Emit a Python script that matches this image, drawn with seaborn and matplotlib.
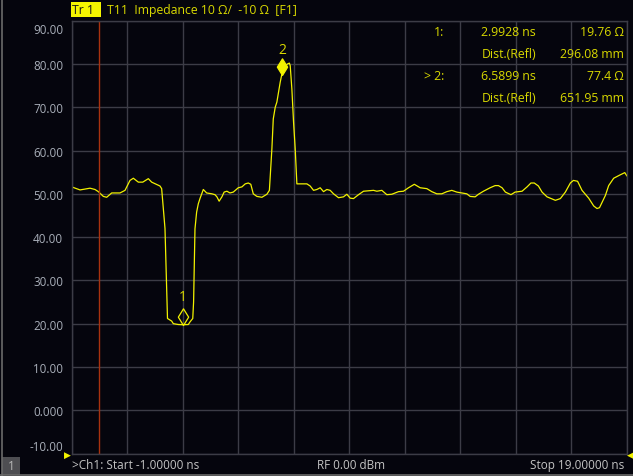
import matplotlib
matplotlib.use("Agg")
import matplotlib.pyplot as plt
import matplotlib.transforms as mtransforms
from matplotlib.path import Path
from matplotlib.patches import Rectangle
import pandas as pd
import seaborn as sns

# --- Trace data ---
time_ns = [-1.00, -0.70, -0.34, -0.16, -0.04, 0.14, 0.26, 0.44, 0.74, 0.92,
           1.10, 1.22, 1.40, 1.56, 1.76, 1.88, 2.18, 2.24, 2.36, 2.45,
           2.60, 2.66, 2.84, 2.99, 3.20, 3.26, 3.36, 3.39, 3.44, 3.50,
           3.56, 3.62, 3.74, 3.86, 4.05, 4.16, 4.23, 4.31, 4.41, 4.49,
           4.59, 4.70, 4.82, 5.00, 5.13, 5.25, 5.36, 5.45, 5.54, 5.67,
           5.85, 6.03, 6.12, 6.17, 6.21, 6.26, 6.33, 6.39, 6.45, 6.51,
           6.57, 6.63, 6.69, 6.77, 6.84, 6.87, 6.93, 6.99, 7.05, 7.11,
           7.47, 7.59, 7.71, 7.83, 7.95, 8.07, 8.19, 8.31, 8.43, 8.61,
           8.79, 8.91, 9.03, 9.15, 9.33, 9.51, 9.87, 9.99, 10.17, 10.35,
           10.53, 10.77, 10.95, 11.13, 11.34, 11.55, 11.79, 11.97, 12.15, 12.33,
           12.51, 12.69, 12.87, 13.05, 13.23, 13.35, 13.53, 13.65, 13.83, 14.07,
           14.25, 14.37, 14.50, 14.62, 14.82, 14.97, 15.22, 15.40, 15.54, 15.66,
           15.81, 15.94, 16.12, 16.42, 16.60, 16.78, 16.96, 17.07, 17.22, 17.38,
           17.62, 17.80, 17.92, 18.01, 18.22, 18.34, 18.52, 18.76, 18.92, 19.00]
impedance_ohm = [51.6, 50.9, 51.3, 51.0, 50.5, 49.4, 49.2, 50.2, 50.2, 50.8,
                 53.1, 53.6, 52.7, 52.7, 53.5, 52.7, 51.8, 51.2, 42.0, 21.2,
                 20.6, 20.0, 19.8, 19.76, 19.8, 20.4, 21.2, 25.0, 41.9, 45.8,
                 47.7, 48.9, 51.0, 50.2, 50.0, 49.8, 49.3, 48.3, 49.3, 50.4,
                 50.6, 50.2, 50.4, 51.4, 51.6, 52.3, 52.5, 52.2, 50.0, 49.4,
                 49.2, 49.9, 50.8, 56.0, 60.4, 67.3, 70.0, 71.2, 73.5, 75.8,
                 77.7, 78.5, 79.5, 80.0, 80.2, 79.6, 74.2, 66.6, 60.4, 52.3,
                 52.3, 51.8, 50.8, 51.0, 51.4, 50.5, 51.0, 50.8, 50.0, 49.1,
                 49.3, 49.9, 49.0, 48.9, 49.8, 50.6, 50.8, 50.6, 50.8, 49.8,
                 49.9, 50.5, 50.6, 51.4, 52.2, 51.4, 51.2, 50.5, 50.0, 50.0,
                 50.5, 50.8, 50.4, 50.2, 50.0, 49.4, 49.3, 49.9, 50.6, 51.4,
                 51.9, 51.9, 51.4, 50.4, 49.8, 50.4, 50.6, 51.6, 52.5, 52.5,
                 51.8, 50.4, 49.3, 48.5, 48.9, 50.4, 52.5, 53.1, 52.9, 50.8,
                 49.0, 47.2, 46.6, 46.8, 49.6, 51.9, 53.6, 54.4, 54.9, 54.1]

# --- Markers ---
marker_ids = ["1", "2"]
marker_time = [2.9928, 6.5899]
marker_value = [19.76, 77.4]
marker_dist = ["296.08 mm", "651.95 mm"]
marker_time_txt = ["2.9928 ns", "6.5899 ns"]
marker_value_txt = ["19.76 Ω", "77.4 Ω"]

y_ticks = [90, 80, 70, 60, 50, 40, 30, 20, 10, 0, -10]
y_tick_labels = ["90.00", "80.00", "70.00", "60.00", "50.00", "40.00",
                 "30.00", "20.00", "10.00", "0.000", "-10.00"]
x_start, x_stop = -1.0, 19.0

# --- Colours ---
BG = "#05050d"
GRID = "#3c3c46"
LABEL = "#a8aeb8"
TRACE = "#f2f200"
YELLOW_TXT = "#d9d900"
STATUS = "#c4c4c4"

W, H = 633, 477

sns.set_theme(style="dark", rc={
    "figure.facecolor": BG,
    "axes.facecolor": BG,
    "savefig.facecolor": BG,
})
plt.rcParams["font.family"] = ["Open Sans", "DejaVu Sans"]


def fx(x):
    return x / W


def fy(y):
    return 1 - y / H


fig = plt.figure(figsize=(W / 100, H / 100), dpi=100)
ax = fig.add_axes([fx(71.7), fy(454.5), (627.0 - 71.7) / W, (454.5 - 21.7) / H])

df = pd.DataFrame({"time": time_ns, "z": impedance_ohm})
sns.lineplot(data=df, x="time", y="z", ax=ax, color=TRACE, linewidth=0.9,
             estimator=None, sort=False)

# reference (t = 0) line
ax.axvline(0.0, color="#a8320f", linewidth=1.0)

ax.set_xlim(x_start, x_stop)
ax.set_ylim(-10, 90)
ax.set_xticks([x_start + 2 * i for i in range(11)])
ax.set_xticklabels([])
ax.set_yticks(y_ticks)
ax.set_yticklabels(y_tick_labels)
ax.set_xlabel("")
ax.set_ylabel("")
ax.grid(True, color=GRID, linewidth=1.0)
ax.tick_params(axis="both", length=0)
ax.tick_params(axis="y", colors=LABEL, labelsize=8.4, pad=6)
for sp in ax.spines.values():
    sp.set_visible(True)
    sp.set_color(GRID)
    sp.set_linewidth(1.0)

# shift end labels inward like the instrument display
labels = ax.get_yticklabels()
labels[0].set_transform(labels[0].get_transform() +
                        mtransforms.ScaledTranslation(0, -7.5 / 100, fig.dpi_scale_trans))
labels[-1].set_transform(labels[-1].get_transform() +
                         mtransforms.ScaledTranslation(0, 8 / 100, fig.dpi_scale_trans))

# marker diamonds, bottom vertex sits on the trace
diamond = Path([(0, 0), (0.62, 1), (0, 2), (-0.62, 1), (0, 0)],
               [Path.MOVETO, Path.LINETO, Path.LINETO, Path.LINETO, Path.CLOSEPOLY])
for i, (mt, mv) in enumerate(zip(marker_time, marker_value)):
    face = TRACE if i == 1 else "none"
    ax.plot([mt], [mv], marker=diamond, markersize=24, markerfacecolor=face,
            markeredgecolor=TRACE, markeredgewidth=0.9, linestyle="none")
    ax.annotate(marker_ids[i], (mt, mv), xytext=(0, 20 if i == 0 else 18.5),
                textcoords="offset points", ha="center", va="center",
                color=YELLOW_TXT, fontsize=10)

# marker readout table
rows_y = [32, 55, 77, 99]
for i in range(2):
    prefix = "1:" if i == 0 else "> 2:"
    fig.text(fx(444), fy(rows_y[2 * i]), prefix, ha="right", va="center",
             color=YELLOW_TXT, fontsize=8.8)
    fig.text(fx(536), fy(rows_y[2 * i]), marker_time_txt[i], ha="right", va="center",
             color=YELLOW_TXT, fontsize=8.8)
    fig.text(fx(624), fy(rows_y[2 * i]), marker_value_txt[i], ha="right", va="center",
             color=YELLOW_TXT, fontsize=8.8)
    fig.text(fx(536), fy(rows_y[2 * i + 1]), "Dist.(Refl)", ha="right", va="center",
             color=YELLOW_TXT, fontsize=8.8)
    fig.text(fx(624), fy(rows_y[2 * i + 1]), marker_dist[i], ha="right", va="center",
             color=YELLOW_TXT, fontsize=8.8)

# trace title bar
fig.patches.append(Rectangle((fx(71), fy(17.5)), 30 / W, 15 / H, transform=fig.transFigure,
                             facecolor="#f5f500", edgecolor="none"))
fig.text(fx(72), fy(10.5), "Tr 1", ha="left", va="center", color="#1a1a1a", fontsize=8.8)
fig.text(fx(107), fy(10.5), "T11  Impedance 10 Ω/  -10 Ω  [F1]", ha="left", va="center",
         color=YELLOW_TXT, fontsize=8.8)

# reference level arrows at the axis edges
fig.text(fx(64), fy(455), "▶", ha="left", va="center", color=TRACE, fontsize=6.5)
fig.text(fx(634), fy(455), "◀", ha="right", va="center", color=TRACE, fontsize=6.5)

# status bar
fig.lines.append(plt.Line2D([fx(1.5), fx(1.5)], [0, 1], transform=fig.transFigure,
                            color="#6a6a6a", linewidth=1.2))
fig.lines.append(plt.Line2D([0, 1], [fy(476.3), fy(476.3)], transform=fig.transFigure,
                            color="#6a6a6a", linewidth=1.2))
fig.patches.append(Rectangle((fx(2), fy(476)), 18 / W, 18 / H, transform=fig.transFigure,
                             facecolor="#4e4e52", edgecolor="none"))
fig.text(fx(11), fy(467), "1", ha="center", va="center", color="#b8b8b8", fontsize=8.5)
fig.text(fx(72), fy(466), ">Ch1: Start -1.00000 ns", ha="left", va="center",
         color=STATUS, fontsize=8.5)
fig.text(fx(351), fy(466), "RF 0.00 dBm", ha="center", va="center", color=STATUS, fontsize=8.5)
fig.text(fx(624), fy(466), "Stop 19.00000 ns", ha="right", va="center",
         color=STATUS, fontsize=8.5)

fig.savefig("out.png", dpi=100, facecolor=BG)
